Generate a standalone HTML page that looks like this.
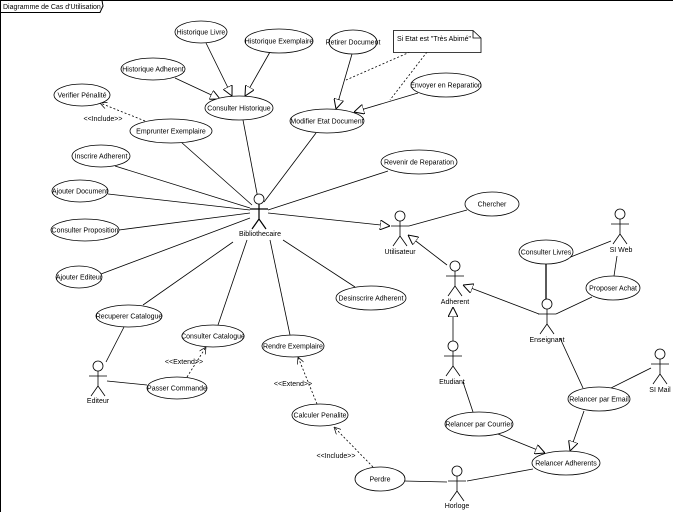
<!DOCTYPE html>
<html><head><meta charset="utf-8"><style>
html,body{margin:0;padding:0;background:#fff;}
svg{display:block;}
text{font-family:"Liberation Sans",sans-serif;font-size:7px;fill:#000;}
</style></head><body>
<svg width="673" height="512" viewBox="0 0 673 512" xmlns="http://www.w3.org/2000/svg">
<defs>
<marker id="tri" viewBox="0 0 10 10" refX="10" refY="5" markerWidth="10" markerHeight="10" markerUnits="userSpaceOnUse" orient="auto">
<path d="M0,0 L10,5 L0,10 Z" fill="#fff" stroke="#000" stroke-width="1"/></marker>
<marker id="open" viewBox="0 0 10 10" refX="10" refY="5" markerWidth="7" markerHeight="7" markerUnits="userSpaceOnUse" orient="auto">
<path d="M0,0 L10,5 L0,10" fill="none" stroke="#000" stroke-width="1"/></marker>
</defs>
<g stroke="#000" stroke-width="1" fill="none">
<line x1="0.5" y1="0" x2="0.5" y2="512"/>
<line x1="0" y1="0.5" x2="673" y2="0.5"/>
<path d="M0.5,12.5 L100,12.5 L103,6 L102,0.5"/>
</g>
<text x="3" y="9">Diagramme de Cas d'Utilisation</text>

<g stroke="#000" stroke-width="0.8" fill="none">
<!-- Bibliothecaire associations -->
<line x1="259" y1="204" x2="243" y2="120"/>
<line x1="264" y1="202" x2="316" y2="133"/>
<line x1="252" y1="205" x2="181" y2="142"/>
<line x1="250" y1="208" x2="115" y2="166"/>
<line x1="250" y1="210" x2="108" y2="194"/>
<line x1="250" y1="213" x2="119" y2="230"/>
<line x1="250" y1="218" x2="101" y2="274"/>
<line x1="268" y1="210" x2="388" y2="171"/>
<line x1="233" y1="242" x2="143" y2="305"/>
<line x1="247" y1="240" x2="218" y2="325"/>
<line x1="270" y1="240" x2="290" y2="335"/>
<line x1="283" y1="240" x2="355" y2="287"/>
<line x1="268" y1="213" x2="390" y2="226" marker-end="url(#tri)"/>
<!-- historique generalizations -->
<line x1="206" y1="43" x2="232" y2="96" marker-end="url(#tri)"/>
<line x1="270" y1="52" x2="245" y2="96" marker-end="url(#tri)"/>
<line x1="175" y1="78" x2="220" y2="99" marker-end="url(#tri)"/>
<line x1="352" y1="54" x2="336" y2="109" marker-end="url(#tri)"/>
<line x1="418" y1="93" x2="354" y2="112" marker-end="url(#tri)"/>
<!-- note links -->
<line x1="410" y1="52" x2="346" y2="80" stroke-dasharray="2,2"/>
<line x1="427" y1="52" x2="390" y2="100" stroke-dasharray="2,2"/>
<!-- include/extend -->
<line x1="145" y1="121" x2="100" y2="103" stroke-dasharray="2,2" marker-end="url(#open)"/>
<line x1="187" y1="377" x2="206" y2="347" stroke-dasharray="2,2" marker-end="url(#open)"/>
<line x1="317" y1="404" x2="298" y2="357" stroke-dasharray="2,2" marker-end="url(#open)"/>
<line x1="373" y1="467" x2="334" y2="427" stroke-dasharray="2,2" marker-end="url(#open)"/>
<!-- Editeur -->
<line x1="106" y1="362" x2="124" y2="327"/>
<line x1="107" y1="381" x2="147" y2="385"/>
<!-- Utilisateur/Chercher -->
<line x1="409" y1="226" x2="467" y2="210"/>
<line x1="447" y1="265" x2="408" y2="235" marker-end="url(#tri)"/>
<!-- Adherent gen -->
<line x1="453" y1="342" x2="453" y2="307" marker-end="url(#tri)"/>
<line x1="539" y1="314" x2="463" y2="285" marker-end="url(#tri)"/>
<line x1="546" y1="264" x2="546" y2="300" stroke-width="1.3"/>
<line x1="556" y1="314" x2="592" y2="297"/>
<line x1="614" y1="276" x2="617" y2="256"/>
<line x1="558" y1="262" x2="611" y2="241"/>
<line x1="560" y1="338" x2="583" y2="388"/>
<line x1="609" y1="389" x2="651" y2="368"/>
<line x1="584" y1="411" x2="570" y2="451" marker-end="url(#tri)"/>
<line x1="463" y1="382" x2="473" y2="412"/>
<line x1="498" y1="434" x2="545" y2="453" marker-end="url(#tri)"/>
<line x1="404" y1="481" x2="447" y2="482"/>
<line x1="467" y1="481" x2="533" y2="469"/>
</g>

<!-- note -->
<path d="M393.5,30.5 L473,30.5 L481,38 L481,52.5 L393.5,52.5 Z M473,30.5 L473,38 L481,38" fill="#fff" stroke="#000" stroke-width="0.8"/>
<text x="397" y="41">Si Etat est "Très Abimé"</text>

<!-- ellipses -->
<g fill="#fff" stroke="#000" stroke-width="0.8">
<ellipse cx="201" cy="32" rx="26" ry="11"/>
<ellipse cx="279" cy="41" rx="34" ry="12"/>
<ellipse cx="153" cy="69" rx="32" ry="11"/>
<ellipse cx="239" cy="108" rx="34" ry="12"/>
<ellipse cx="82" cy="95" rx="28" ry="11"/>
<ellipse cx="171" cy="131" rx="41" ry="12"/>
<ellipse cx="101" cy="156" rx="29" ry="11"/>
<ellipse cx="80" cy="191" rx="28" ry="11"/>
<ellipse cx="85" cy="230" rx="34" ry="11"/>
<ellipse cx="79" cy="277" rx="23" ry="11"/>
<ellipse cx="129" cy="316" rx="33" ry="11"/>
<ellipse cx="213" cy="336" rx="31" ry="11"/>
<ellipse cx="293" cy="346" rx="31" ry="11"/>
<ellipse cx="177" cy="388" rx="30" ry="11"/>
<ellipse cx="320" cy="415" rx="28" ry="11"/>
<ellipse cx="380" cy="479" rx="25" ry="12"/>
<ellipse cx="353" cy="42" rx="24" ry="12"/>
<ellipse cx="327" cy="121" rx="37" ry="12"/>
<ellipse cx="446" cy="85" rx="35" ry="12"/>
<ellipse cx="419" cy="162" rx="38" ry="12"/>
<ellipse cx="492" cy="204" rx="27" ry="12"/>
<ellipse cx="371" cy="298" rx="35" ry="12"/>
<ellipse cx="546" cy="252" rx="27" ry="12"/>
<ellipse cx="613" cy="288" rx="27" ry="12"/>
<ellipse cx="599" cy="399" rx="31" ry="12"/>
<ellipse cx="479" cy="424" rx="34" ry="12"/>
<ellipse cx="566" cy="463" rx="34" ry="12"/>
</g>
<g text-anchor="middle">
<text x="201" y="34.5">Historique Livre</text>
<text x="279" y="43.5">Historique Exemplaire</text>
<text x="153" y="71.5">Historique Adherent</text>
<text x="239" y="110.5">Consulter Historique</text>
<text x="82" y="97.5">Verifier Pénalité</text>
<text x="171" y="133.5">Emprunter Exemplaire</text>
<text x="101" y="158.5">Inscrire Adherent</text>
<text x="80" y="193.5">Ajouter Document</text>
<text x="85" y="232.5">Consulter Proposition</text>
<text x="79" y="279.5">Ajouter Editeur</text>
<text x="129" y="318.5">Recuperer Catalogue</text>
<text x="213" y="338.5">Consulter Catalogue</text>
<text x="293" y="348.5">Rendre Exemplaire</text>
<text x="177" y="390.5">Passer Commande</text>
<text x="320" y="417.5">Calculer Penalite</text>
<text x="380" y="481.5">Perdre</text>
<text x="353" y="44.5">Retirer Document</text>
<text x="327" y="123.5">Modifier Etat Document</text>
<text x="446" y="87.5">Envoyer en Reparation</text>
<text x="419" y="164.5">Revenir de Reparation</text>
<text x="492" y="206.5">Chercher</text>
<text x="371" y="300.5">Desinscrire Adherent</text>
<text x="546" y="254.5">Consulter Livres</text>
<text x="613" y="290.5">Proposer Achat</text>
<text x="599" y="401.5">Relancer par Email</text>
<text x="479" y="426.5">Relancer par Courrier</text>
<text x="566" y="465.5">Relancer Adherents</text>
<text x="103" y="121">&lt;&lt;Include&gt;&gt;</text>
<text x="184" y="364">&lt;&lt;Extend&gt;&gt;</text>
<text x="293" y="386">&lt;&lt;Extend&gt;&gt;</text>
<text x="336" y="458">&lt;&lt;Include&gt;&gt;</text>
</g>

<!-- actors -->
<g stroke="#000" stroke-width="0.8" fill="#fff">
<g transform="translate(259,199)"><circle cx="0" cy="0" r="5"/><path d="M0,5 V20 M-9,10 H9 M0,20 L-7,30 M0,20 L7,30" fill="none" stroke-width="1.2"/></g>
<g transform="translate(400,216)"><circle cx="0" cy="0" r="5"/><path d="M0,5 V20 M-9,10 H9 M0,20 L-7,30 M0,20 L7,30" fill="none"/></g>
<g transform="translate(455,266)"><circle cx="0" cy="0" r="5"/><path d="M0,5 V20 M-9,10 H9 M0,20 L-7,30 M0,20 L7,30" fill="none"/></g>
<g transform="translate(453,346)"><circle cx="0" cy="0" r="5"/><path d="M0,5 V20 M-9,10 H9 M0,20 L-7,30 M0,20 L7,30" fill="none"/></g>
<g transform="translate(547,304)"><circle cx="0" cy="0" r="5"/><path d="M0,5 V20 M-9,10 H9 M0,20 L-7,30 M0,20 L7,30" fill="none"/></g>
<g transform="translate(620,214)"><circle cx="0" cy="0" r="5"/><path d="M0,5 V20 M-9,10 H9 M0,20 L-7,30 M0,20 L7,30" fill="none"/></g>
<g transform="translate(660,354)"><circle cx="0" cy="0" r="5"/><path d="M0,5 V20 M-9,10 H9 M0,20 L-7,30 M0,20 L7,30" fill="none"/></g>
<g transform="translate(98,366)"><circle cx="0" cy="0" r="5"/><path d="M0,5 V20 M-9,10 H9 M0,20 L-7,30 M0,20 L7,30" fill="none"/></g>
<g transform="translate(457,471)"><circle cx="0" cy="0" r="5"/><path d="M0,5 V20 M-9,10 H9 M0,20 L-7,30 M0,20 L7,30" fill="none"/></g>
</g>
<g text-anchor="middle">
<text x="260" y="236">Bibliothecaire</text>
<text x="400" y="254">Utilisateur</text>
<text x="455" y="304">Adherent</text>
<text x="452" y="384">Etudiant</text>
<text x="547" y="342">Enseignant</text>
<text x="621" y="252">SI Web</text>
<text x="660" y="392">SI Mail</text>
<text x="98" y="403">Editeur</text>
<text x="457" y="508">Horloge</text>
</g>
</svg>
</body></html>
